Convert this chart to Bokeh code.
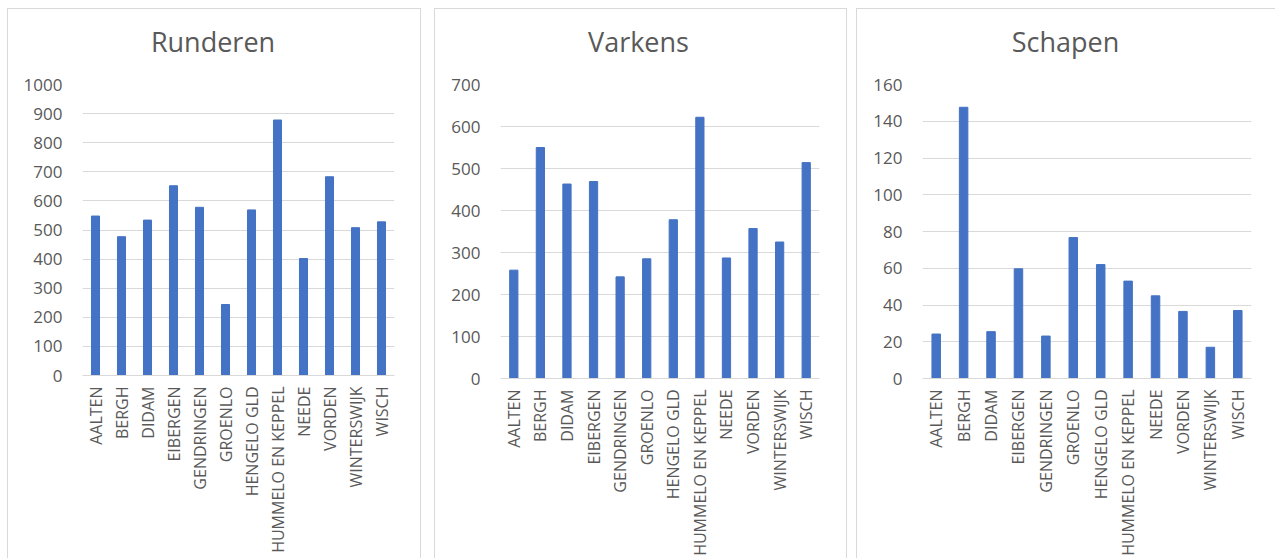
import math
from bokeh.plotting import figure
from bokeh.models import FactorRange, Range1d, FixedTicker, Spacer, Div
from bokeh.layouts import row, column
from bokeh.embed import file_html
from bokeh.resources import INLINE

gemeenten = ["AALTEN", "BERGH", "DIDAM", "EIBERGEN", "GENDRINGEN", "GROENLO",
             "HENGELO GLD", "HUMMELO EN KEPPEL", "NEEDE", "VORDEN", "WINTERSWIJK", "WISCH"]
runderen = [548, 477, 534, 652, 578, 244, 569, 878, 402, 683, 508, 528]
varkens = [258, 550, 463, 469, 242, 285, 378, 622, 287, 357, 325, 514]
schapen = [24.2, 147.6, 25.5, 59.7, 23.1, 76.7, 62.0, 53.0, 45.0, 36.5, 17.0, 37.0]
titels = ["Runderen", "Varkens", "Schapen"]
y_max = [1000, 700, 160]
y_step = [100, 100, 20]

FONT = "Open Sans"
TXT = "#595959"
GRID = "#d9d9d9"
BAR = "#4472C4"
FULL = 549
TITLE_H = 60
H = FULL - TITLE_H
TOP = 15


def make(title, values, ymax, step, width, mbl, mbr, mbb, shift):
    p = figure(x_range=FactorRange(factors=gemeenten, range_padding=0),
               y_range=Range1d(0, ymax), width=width, height=H,
               output_backend="svg", toolbar_location=None,
               min_border_left=mbl, min_border_right=mbr,
               min_border_top=TOP, min_border_bottom=mbb)
    p.vbar(x=gemeenten, top=values, width=0.31, color=BAR)
    p.outline_line_color = None
    p.xgrid.visible = False
    p.ygrid.grid_line_color = GRID
    p.ygrid.grid_line_width = 1
    ya = p.yaxis[0]
    ya.ticker = FixedTicker(ticks=list(range(0, ymax + 1, step)))
    ya.axis_line_color = None
    ya.major_tick_line_color = None
    ya.minor_tick_line_color = None
    ya.major_label_text_font = FONT
    ya.major_label_text_font_size = "17px"
    ya.major_label_text_color = TXT
    ya.major_label_standoff = 14
    xa = p.xaxis[0]
    xa.axis_line_color = GRID
    xa.major_tick_line_color = None
    xa.minor_tick_line_color = None
    xa.major_tick_out = 0
    xa.major_label_orientation = math.pi / 2
    xa.major_label_text_font = FONT
    xa.major_label_text_font_size = "16px"
    xa.major_label_text_color = TXT
    xa.major_label_standoff = 11
    head = Div(
        text=(f'<div style="display:block;box-sizing:border-box;width:{width}px;'
              f'margin:0;padding-top:14px;padding-right:{shift}px;'
              f'font-family:\'{FONT}\';font-size:27px;line-height:normal;'
              f'color:{TXT};text-align:center;">{title}</div>'),
        width=width, height=TITLE_H, margin=0)
    return column(head, p)


def vline(h=FULL):
    return Spacer(width=1, height=h, styles={"background-color": GRID})


def hline(w):
    return Spacer(width=w, height=1, styles={"background-color": GRID})


p1 = make(titels[0], runderen, y_max[0], y_step[0], 412, 74, 26, 183, 2)
p2 = make(titels[1], varkens, y_max[1], y_step[1], 411, 65, 27, 180, 4)
p3 = make(titels[2], schapen, y_max[2], y_step[2], 418, 65, 24, 178, 1)

panel1 = column(hline(414), row(vline(), p1, vline()))
panel2 = column(hline(413), row(vline(), p2, vline()))
panel3 = column(hline(419), row(vline(), p3))

layout = column(
    Spacer(width=10, height=8),
    row(Spacer(width=7, height=10), panel1, Spacer(width=13, height=10),
        panel2, Spacer(width=9, height=10), panel3),
)

open("out.html", "w").write(file_html(layout, INLINE))
